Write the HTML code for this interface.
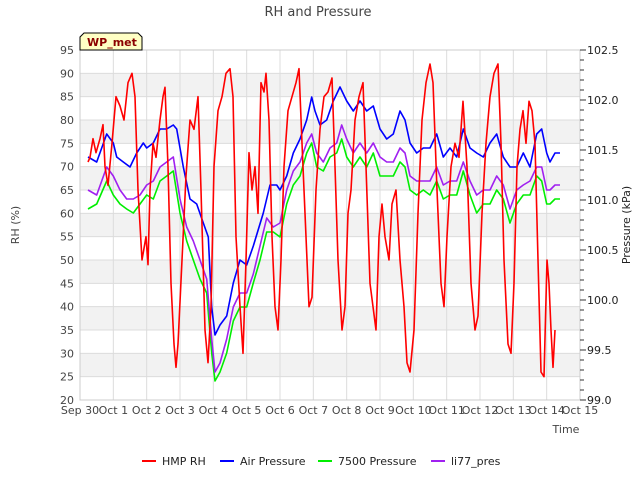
<!DOCTYPE html>
<html><head><meta charset="utf-8"><style>
body{margin:0;background:#fff;font-family:"Liberation Sans","DejaVu Sans",sans-serif}
svg text{font-family:"DejaVu Sans","Liberation Sans",sans-serif}
</style></head><body>
<svg id="c" width="640" height="480" xmlns="http://www.w3.org/2000/svg">
<text x="318" y="16" font-size="13" fill="#444" text-anchor="middle">RH and Pressure</text>
<g id="bands"></g><g id="grid"></g><g id="series"></g><g id="axes"></g>
<g>
<path d="M80,50 L80,37 L84,33 L138,33 L142,37 L142,50 Z" fill="#ffffc4" stroke="#000" stroke-width="1"/>
<text x="87" y="46" font-size="11" font-weight="bold" fill="#8b0000">WP_met</text></g>
<text x="566" y="433" font-size="11" fill="#444" text-anchor="middle">Time</text>
<text transform="translate(19,225) rotate(-90)" font-size="11" fill="#444" text-anchor="middle">RH (%)</text>
<text transform="translate(630,225) rotate(-90)" font-size="11" fill="#222" text-anchor="middle">Pressure (kPa)</text>
<g id="legend"></g>
</svg>
<script>
const rhDays=[0.24,0.3,0.39,0.48,0.6,0.69,0.75,0.84,0.96,1.08,1.2,1.32,1.44,1.56,1.65,1.74,1.86,1.98,2.04,2.1,2.19,2.28,2.4,2.49,2.55,2.64,2.73,2.82,2.88,2.94,3.06,3.18,3.3,3.42,3.54,3.63,3.75,3.84,3.93,4.02,4.14,4.26,4.38,4.5,4.59,4.68,4.8,4.89,4.98,5.07,5.16,5.25,5.34,5.43,5.52,5.58,5.67,5.76,5.85,5.94,6.03,6.12,6.24,6.36,6.48,6.57,6.66,6.78,6.87,6.96,7.08,7.2,7.32,7.44,7.56,7.65,7.74,7.86,7.95,8.04,8.13,8.25,8.37,8.49,8.58,8.7,8.79,8.88,8.97,9.06,9.15,9.27,9.36,9.48,9.6,9.72,9.81,9.9,10.02,10.14,10.26,10.38,10.5,10.59,10.71,10.83,10.92,11.01,11.13,11.25,11.37,11.49,11.61,11.73,11.85,11.94,12.06,12.18,12.3,12.42,12.54,12.63,12.72,12.84,12.93,13.02,13.11,13.2,13.29,13.38,13.47,13.56,13.65,13.74,13.83,13.92,14.01,14.07,14.13,14.19,14.25];
const rhValues=[71,72,76,73,76,79,70,66,75,85,83,80,88,90,85,65,50,55,49,65,75,72,80,85,87,70,45,32,27,32,50,68,80,78,85,65,35,28,40,70,82,85,90,91,85,55,40,30,50,73,65,70,60,88,86,90,80,55,40,35,50,70,82,85,88,91,75,55,40,42,65,78,85,86,89,70,50,35,40,60,65,80,85,88,70,45,40,35,55,62,55,50,62,65,50,40,28,26,35,60,80,88,92,88,65,45,40,55,70,75,72,84,70,45,35,38,60,75,85,90,92,75,50,32,30,45,70,78,82,75,84,82,75,50,26,25,50,45,35,27,35];
const airDays=[0.24,0.5,0.8,1.0,1.1,1.3,1.5,1.7,1.9,2.0,2.2,2.4,2.6,2.8,2.9,3.1,3.3,3.5,3.7,3.85,3.95,4.05,4.2,4.4,4.6,4.8,5.0,5.2,5.5,5.7,5.9,6.0,6.2,6.4,6.6,6.8,6.95,7.05,7.2,7.4,7.6,7.8,8.0,8.2,8.4,8.6,8.8,9.0,9.2,9.4,9.6,9.75,9.9,10.1,10.3,10.5,10.7,10.9,11.1,11.3,11.5,11.7,11.9,12.1,12.3,12.5,12.7,12.9,13.1,13.3,13.5,13.7,13.85,14.0,14.1,14.25,14.4];
const airValues=[101.43,101.38,101.66,101.57,101.43,101.38,101.33,101.47,101.57,101.52,101.57,101.71,101.71,101.75,101.71,101.33,101.01,100.96,100.77,100.63,99.93,99.65,99.75,99.84,100.17,100.40,100.35,100.54,100.87,101.15,101.15,101.10,101.24,101.47,101.61,101.80,102.03,101.89,101.75,101.80,101.99,102.13,101.99,101.89,101.99,101.89,101.94,101.71,101.61,101.66,101.89,101.80,101.57,101.47,101.52,101.52,101.66,101.43,101.52,101.43,101.71,101.52,101.47,101.43,101.57,101.66,101.43,101.33,101.33,101.47,101.33,101.66,101.71,101.47,101.38,101.47,101.47];
const pDays=[0.24,0.5,0.8,1.0,1.2,1.4,1.6,1.8,2.0,2.2,2.4,2.6,2.8,3.0,3.2,3.4,3.6,3.8,3.95,4.05,4.2,4.4,4.6,4.8,5.0,5.2,5.4,5.6,5.8,6.0,6.2,6.4,6.6,6.8,6.95,7.1,7.3,7.5,7.7,7.85,8.0,8.2,8.4,8.6,8.8,9.0,9.2,9.4,9.6,9.75,9.9,10.1,10.3,10.5,10.7,10.9,11.1,11.3,11.5,11.7,11.9,12.1,12.3,12.5,12.7,12.9,13.1,13.3,13.5,13.7,13.85,14.0,14.1,14.25,14.4];
const p7500Values=[100.91,100.96,101.19,101.05,100.96,100.91,100.87,100.96,101.05,101.01,101.19,101.24,101.29,100.87,100.59,100.40,100.21,100.07,99.47,99.19,99.28,99.47,99.79,99.93,99.93,100.17,100.40,100.68,100.68,100.63,100.96,101.15,101.24,101.47,101.57,101.33,101.29,101.43,101.47,101.61,101.43,101.33,101.43,101.33,101.47,101.24,101.24,101.24,101.38,101.33,101.10,101.05,101.10,101.05,101.19,101.01,101.05,101.05,101.29,101.05,100.87,100.96,100.96,101.10,101.01,100.77,100.96,101.05,101.05,101.24,101.19,100.96,100.96,101.01,101.01];
const li77Values=[101.10,101.05,101.33,101.24,101.10,101.01,101.01,101.05,101.15,101.19,101.33,101.38,101.43,101.01,100.73,100.59,100.40,100.21,99.61,99.28,99.37,99.61,99.93,100.07,100.07,100.26,100.54,100.82,100.73,100.77,101.10,101.29,101.38,101.57,101.66,101.47,101.38,101.52,101.57,101.75,101.61,101.47,101.57,101.47,101.57,101.43,101.38,101.38,101.52,101.47,101.24,101.19,101.19,101.19,101.33,101.15,101.19,101.19,101.38,101.19,101.05,101.10,101.10,101.24,101.15,100.91,101.10,101.15,101.19,101.33,101.33,101.10,101.10,101.15,101.15];
const xTickLabels=["Sep 30","Oct 1","Oct 2","Oct 3","Oct 4","Oct 5","Oct 6","Oct 7","Oct 8","Oct 9","Oct 10","Oct 11","Oct 12","Oct 13","Oct 14","Oct 15"];
const leftTicks=[20,25,30,35,40,45,50,55,60,65,70,75,80,85,90,95];
const rightTicks=["99.0","99.5","100.0","100.5","101.0","101.5","102.0","102.5"];

const L=80,R=580,T=50,B=400;
const xs=d=>L+(R-L)*d/15;
const yl=v=>B-(B-T)*(v-20)/75;
const yr=v=>B-(B-T)*(v-99)/3.5;
const NS="http://www.w3.org/2000/svg";
function mk(tag,attrs,parent){const e=document.createElementNS(NS,tag);for(const k in attrs)e.setAttribute(k,attrs[k]);parent.appendChild(e);return e;}
const bands=document.getElementById('bands'),grid=document.getElementById('grid'),axes=document.getElementById('axes'),series=document.getElementById('series'),legend=document.getElementById('legend');
mk('rect',{x:L,y:T,width:R-L,height:B-T,fill:'#fff'},bands);
for(let v=25;v<90;v+=10){const b=mk('rect',{x:L,y:yl(v+5),width:R-L,height:yl(v)-yl(v+5),fill:'#f2f2f2'},bands);

}
leftTicks.forEach(v=>{mk('line',{x1:L,x2:R,y1:yl(v),y2:yl(v),stroke:'#dcdcdc','stroke-width':1},grid);
const t=mk('text',{x:L-6,y:yl(v)+4,'font-size':11,fill:'#444','text-anchor':'end'},axes);t.textContent=v;

});
xTickLabels.forEach((s,i)=>{mk('line',{x1:xs(i),x2:xs(i),y1:T,y2:B,stroke:'#dcdcdc','stroke-width':1},grid);
const t=mk('text',{x:xs(i),y:414,'font-size':11,fill:'#444','text-anchor':'middle'},axes);t.textContent=s;

});
mk('rect',{x:L,y:T,width:R-L,height:B-T,fill:'none',stroke:'#ccc'},axes);
for(let i=0;i<=35;i++){const y=yr(99+i*0.1);mk('line',{x1:R,x2:R+(i%5==0?6:4),y1:y,y2:y,stroke:'#333'},axes);}
rightTicks.forEach(s=>{const t=mk('text',{x:R+7,y:yr(parseFloat(s))+4,'font-size':11,fill:'#222'},axes);t.textContent=s;

});
function line(days,vals,yf,color,name){const n=Math.min(days.length,vals.length);let d='';for(let i=0;i<n;i++)d+=(i?'L':'M')+xs(days[i]).toFixed(1)+','+yf(vals[i]).toFixed(1);
const p=mk('path',{d:d,fill:'none',stroke:color,'stroke-width':1.6,'stroke-linejoin':'round'},series);

}
line(rhDays,rhValues,yl,'#ff0000','hmp-rh-line');
line(airDays,airValues,yr,'#0000ff','air-pressure-line');
line(pDays,p7500Values,yr,'#00ee00','pressure-7500-line');
line(pDays,li77Values,yr,'#a020f0','li77-pres-line');
// redraw RH on top
series.appendChild(series.firstChild);
[["HMP RH","#ff0000",142],["Air Pressure","#0000ff",220],["7500 Pressure","#00ee00",318],["li77_pres","#a020f0",431]].forEach(([s,c,x])=>{
const g=mk('g',{},legend);


mk('line',{x1:x,x2:x+14,y1:461,y2:461,stroke:c,'stroke-width':2},g);
const t=mk('text',{x:x+20,y:465,'font-size':11,fill:'#222'},g);t.textContent=s;});
</script>
</body></html>
